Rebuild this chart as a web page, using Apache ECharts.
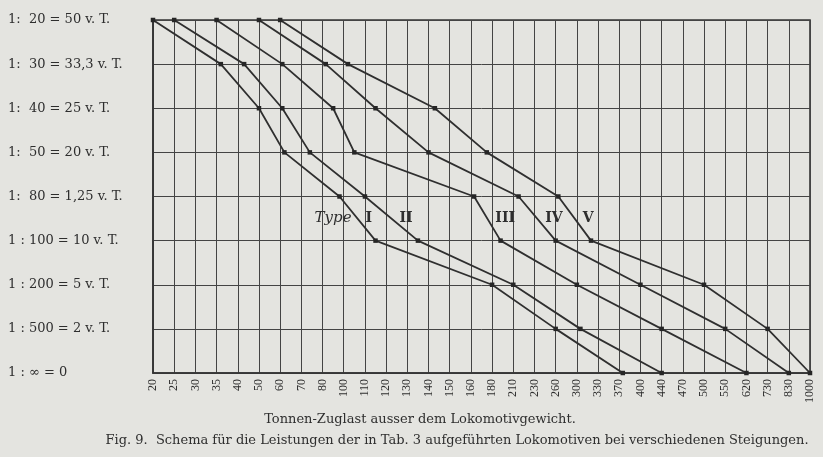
<!DOCTYPE html>
<html><head><meta charset="utf-8">
<script src="https://cdn.jsdelivr.net/npm/echarts@6/dist/echarts.min.js"></script>
<style>html,body{margin:0;padding:0;background:#e4e4e0}#c{width:823px;height:457px}</style>
</head><body><div id="c"></div>
<script>
// Tick labels on the load (x) axis, tonnes
const xTicks = [20,25,30,35,40,50,60,70,80,100,110,120,130,140,150,160,180,210,230,260,300,330,370,400,440,470,500,550,620,730,830,1000];
// Gradients (y axis categories, top to bottom)
const gradeLabels = [
  '1:  20 = 50 v. T.',
  '1:  30 = 33,3 v. T.',
  '1:  40 = 25 v. T.',
  '1:  50 = 20 v. T.',
  '1:  80 = 1,25 v. T.',
  '1 : 100 = 10 v. T.',
  '1 : 200 = 5 v. T.',
  '1 : 500 = 2 v. T.',
  '1 : \u221E = 0'
];
const typeNames = ['I','II','III','IV','V'];
// Load in tonnes for each gradient (same order as gradeLabels)
const typeI   = [20, 36, 50, 62, 96, 115, 180, 260, 375];
const typeII  = [25, 43, 61, 74, 110, 135, 210, 305, 440];
const typeIII = [35, 61, 90, 105, 163, 192, 300, 440, 620];
const typeIV  = [50, 83, 115, 140, 215, 260, 400, 550, 830];
const typeV   = [60, 102, 143, 175, 265, 320, 500, 730, 1000];
const allTypes = [typeI, typeII, typeIII, typeIV, typeV];

// the drawn scale places the tick labels at equal steps; values between ticks are interpolated
function tickIndex(v){
  for (let i = 0; i < xTicks.length - 1; i++) {
    if (v <= xTicks[i+1]) return i + (v - xTicks[i]) / (xTicks[i+1] - xTicks[i]);
  }
  return xTicks.length - 1;
}

const FONT = "'DejaVu Serif','Liberation Serif',serif";
const FONT2 = "'Liberation Serif','DejaVu Serif',serif";
const INK = '#2e2e2e';
const chart = echarts.init(document.getElementById('c'), null, {renderer:'canvas'});

const series = allTypes.map((vals, k) => ({
  name: 'Type ' + typeNames[k],
  type: 'line',
  data: vals.map((v, i) => [tickIndex(v), gradeLabels[i]]),
  symbol: 'rect',
  symbolSize: 4.5,
  itemStyle: {color: '#262626'},
  lineStyle: {color: '#2f2f2f', width: 1.8},
  animation: false,
  z: 3
}));

chart.setOption({
  backgroundColor: '#e4e4e0',
  animation: false,
  grid: {left: 153, right: 13, top: 20, bottom: 84, show: true, borderColor: '#333', borderWidth: 1.6},
  xAxis: {
    type: 'value', min: 0, max: xTicks.length - 1, interval: 1,
    axisLine: {show: true, lineStyle: {color: '#333', width: 1.6}},
    axisTick: {show: false},
    splitLine: {show: true, lineStyle: {color: '#444', width: 1}},
    axisLabel: {
      rotate: 90, margin: 6, fontFamily: FONT2, fontSize: 12, color: INK,
      formatter: v => String(xTicks[Math.round(v)])
    }
  },
  yAxis: {
    type: 'category', inverse: true, boundaryGap: false, data: gradeLabels,
    axisLine: {show: true, lineStyle: {color: '#333', width: 1.6}},
    axisTick: {show: false},
    splitLine: {show: true, lineStyle: {color: '#444', width: 1}},
    axisLabel: {align: 'left', margin: 145, fontFamily: FONT, fontSize: 13, color: INK}
  },
  series: series
});

// labels along the 1:80 -> 1:100 segments
const graphics = [];
allTypes.forEach((vals, k) => {
  const a = chart.convertToPixel({gridIndex: 0}, [tickIndex(vals[4]), gradeLabels[4]]);
  const b = chart.convertToPixel({gridIndex: 0}, [tickIndex(vals[5]), gradeLabels[5]]);
  const mx = (a[0] + b[0]) / 2, my = (a[1] + b[1]) / 2;
  graphics.push({type: 'text', x: mx + 8, y: my, style: {text: typeNames[k], fontFamily: FONT, fontSize: 14, fontWeight: 'bold', fill: INK, align: 'left', verticalAlign: 'middle'}});
  if (k === 0) {
    graphics.push({type: 'text', x: mx - 6, y: my, style: {text: 'Type', fontFamily: FONT, fontSize: 15, fontStyle: 'italic', fill: INK, align: 'right', verticalAlign: 'middle'}});
  }
});
graphics.push({type: 'text', x: 420, y: 420, style: {text: 'Tonnen-Zuglast ausser dem Lokomotivgewicht.', fontFamily: FONT, fontSize: 13, fill: INK, align: 'center', verticalAlign: 'middle'}});
graphics.push({type: 'text', x: 457, y: 441, style: {text: 'Fig. 9.  Schema f\u00FCr die Leistungen der in Tab. 3 aufgef\u00FChrten Lokomotiven bei verschiedenen Steigungen.', fontFamily: FONT, fontSize: 13, fill: INK, align: 'center', verticalAlign: 'middle'}});
chart.setOption({graphic: graphics});
</script></body></html>
